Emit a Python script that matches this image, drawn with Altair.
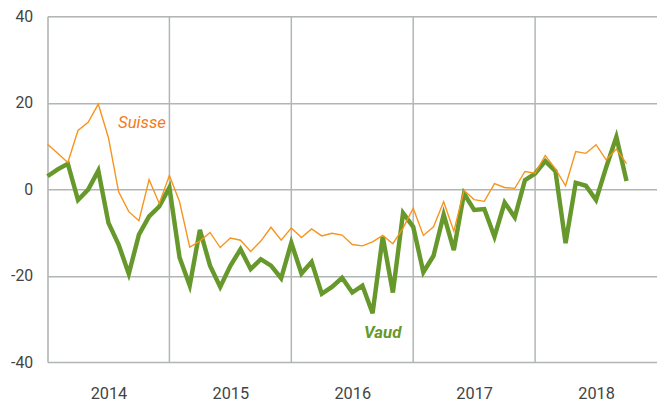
import altair as alt
import pandas as pd

# Monthly data, Jan 2014 .. Oct 2018
months = [f"{y}-{m:02d}" for y in range(2014, 2019) for m in range(1, 13)][:58]

suisse = [10.4, 8.3, 6.2, 13.6, 15.5, 19.7, 11.9, -0.6, -5.2, -7.3,
          2.2, -3.3, 3.2, -2.9, -13.4, -12.0, -10.0, -13.5, -11.3, -11.8,
          -14.4, -12.0, -8.8, -11.8, -9.0, -11.2, -9.2, -10.8, -10.2, -10.6,
          -12.8, -13.1, -12.2, -10.7, -12.6, -9.0, -4.4, -10.7, -8.7, -2.9,
          -9.7, -0.3, -2.4, -2.8, 1.3, 0.4, 0.2, 4.1, 3.7, 7.8,
          4.7, 0.8, 8.7, 8.3, 10.3, 6.8, 9.3, 5.9]

vaud = [3.0, 4.6, 5.9, -2.5, -0.1, 4.3, -7.8, -12.8, -19.6, -10.5,
        -6.3, -4.0, 0.4, -15.8, -22.3, -9.4, -17.7, -22.6, -17.7, -13.9,
        -18.5, -16.2, -17.7, -20.6, -12.4, -19.5, -16.8, -24.2, -22.6, -20.5,
        -23.9, -22.3, -28.7, -11.0, -23.9, -5.5, -8.7, -19.2, -15.4, -5.9,
        -14.1, -1.0, -4.8, -4.6, -11.0, -3.1, -6.5, 2.1, 3.6, 6.5,
        4.2, -12.5, 1.5, 0.8, -2.5, 5.1, 12.1, 1.9]

years = ["2014", "2015", "2016", "2017", "2018"]
y_ticks = [-40, -20, 0, 20, 40]

labels = ["Suisse", "Vaud"]
label_month = [9.3, 33.0]
label_value = [15.3, -33.3]

FONT = "Roboto"
GREEN = "#66982b"
ORANGE = "#f7941d"
GRID = "#b2b5b5"

df = pd.DataFrame({
    "m": list(range(len(months))),
    "month": months,
    "Suisse": suisse,
    "Vaud": vaud,
})
year_bounds = pd.DataFrame({"m": [12 * (i + 1) for i in range(len(years) - 1)]})
year_mid = [12 * i + 6 for i in range(len(years))]
ann = pd.DataFrame({"label": labels, "m": label_month, "v": label_value})

x_scale = alt.Scale(domain=[0, 60], nice=False, zero=False)
y_scale = alt.Scale(domain=[-40, 40], nice=False)

label_expr = "[" + ",".join(f"'{y}'" for y in years) + "][floor(datum.value/12)]"

x_axis = alt.Axis(values=year_mid, labelExpr=label_expr, grid=False, ticks=False,
                  domain=False, labelFont=FONT, labelFontSize=16.5, labelColor="#444",
                  labelPadding=24, title=None)
y_axis = alt.Axis(values=y_ticks, labelExpr="'' + datum.value", grid=True,
                  gridColor=GRID, gridWidth=1.5, ticks=False, domain=True,
                  domainColor=GRID, domainWidth=1.5, labelFont=FONT,
                  labelFontSize=16, labelColor="#444", labelPadding=15, title=None)

base = alt.Chart(df)

rules = alt.Chart(year_bounds).mark_rule(color=GRID, strokeWidth=1.5).encode(
    x=alt.X("m:Q", scale=x_scale, axis=x_axis),
    y=alt.value(0), y2=alt.value(350))

vaud_line = base.mark_line(color=GREEN, strokeWidth=4.5, strokeJoin="miter").encode(
    x=alt.X("m:Q", scale=x_scale, axis=x_axis),
    y=alt.Y("Vaud:Q", scale=y_scale, axis=y_axis))

suisse_line = base.mark_line(color=ORANGE, strokeWidth=1.4).encode(
    x=alt.X("m:Q", scale=x_scale, axis=x_axis),
    y=alt.Y("Suisse:Q", scale=y_scale, axis=y_axis))

ann_s = alt.Chart(ann[ann.label == "Suisse"]).mark_text(
    font=FONT, fontSize=17, fontStyle="italic", color="#f47b20").encode(
    x=alt.X("m:Q", scale=x_scale), y=alt.Y("v:Q", scale=y_scale), text="label:N")
ann_v = alt.Chart(ann[ann.label == "Vaud"]).mark_text(
    font=FONT, fontSize=17, fontStyle="italic", fontWeight="bold", color=GREEN).encode(
    x=alt.X("m:Q", scale=x_scale), y=alt.Y("v:Q", scale=y_scale), text="label:N")

chart = alt.layer(rules, vaud_line, suisse_line, ann_s, ann_v).properties(
    width=617, height=350,
    autosize=alt.AutoSizeParams(type="none"),
    padding={"left": 40, "top": 6, "right": 0, "bottom": 41},
).configure_view(stroke=None).configure(background="white")

chart.save("out.html", embed_options={"renderer": "svg", "actions": False})
